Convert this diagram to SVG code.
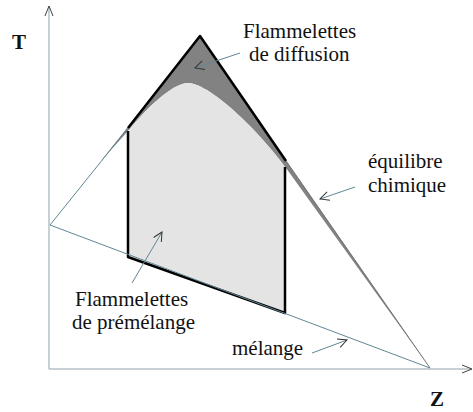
<svg xmlns="http://www.w3.org/2000/svg" width="473" height="412" viewBox="0 0 473 412">
<style>
.lbl{font-size:21px;fill:#111}
.ax{fill:none;stroke:#b4c0c6;stroke-width:1.5}
.axh{fill:none;stroke:#444;stroke-width:1}
.thin{fill:none;stroke:#5f8794;stroke-width:1}
.ptr{fill:none;stroke:#5f8794;stroke-width:1}
.bold{fill:none;stroke:#000;stroke-width:2.5;stroke-linejoin:round}
</style>
<defs>
<marker id="ah" markerWidth="12" markerHeight="12" refX="10" refY="5" orient="auto" markerUnits="userSpaceOnUse">
<path d="M1,0.5 L10,5 L1,9.5" fill="none" stroke="#333" stroke-width="1"/>
</marker>
</defs>
<g id="axes" font-family="Liberation Serif, Times New Roman, serif">
<line class="ax" x1="49" y1="369" x2="49" y2="6"/>
<line class="ax" x1="49" y1="369" x2="471" y2="369"/>
<path class="axh" d="M45,16 L49,6 L53,16"/>
<path class="axh" d="M462,365 L472,369 L462,373"/>
<text class="lbl" x="12" y="49" font-weight="bold">T</text>
<text class="lbl" x="430" y="406" font-weight="bold">Z</text>
</g>
<g id="diffusion-region">
<path d="M50,225 L200,36 L430,368 L286,168 C262,135 212,84 188,83 C172,83 145,110 128,131 L100,162 Z" fill="#828282"/>
</g>
<g id="premixed-region">
<path d="M128,131 C145,110 172,83 188,83 C212,84 262,135 285,167 L285,313 L128,257 Z" fill="#e4e4e4"/>
<path class="bold" d="M128,131 L128,257 L285,313 L285,167"/>
</g>
<g id="equilibrium">
<line class="thin" x1="50" y1="225" x2="128" y2="128"/>
<path class="bold" d="M128,128 L200,36 L286,161" stroke-width="2"/>
<line x1="286" y1="161" x2="430" y2="368" stroke="#777" stroke-width="1"/>
</g>
<g id="mixing">
<line class="thin" x1="50" y1="225" x2="430" y2="368"/>
</g>
<g id="connectors">
<line class="ptr" x1="240" y1="53" x2="195" y2="68" marker-end="url(#ah)"/>
<line class="ptr" x1="355" y1="187" x2="320" y2="199" marker-end="url(#ah)"/>
<line class="ptr" x1="132" y1="283" x2="162" y2="232" marker-end="url(#ah)"/>
<line class="ptr" x1="312" y1="353" x2="347" y2="340" marker-end="url(#ah)"/>
</g>
<g id="label-diffusion" font-family="Liberation Serif, Times New Roman, serif">
<text class="lbl" x="243" y="38">Flammelettes</text>
<text class="lbl" x="249" y="61">de diffusion</text>
</g>
<g id="label-equilibre" font-family="Liberation Serif, Times New Roman, serif">
<text class="lbl" x="368" y="168">équilibre</text>
<text class="lbl" x="368" y="192">chimique</text>
</g>
<g id="label-premelange" font-family="Liberation Serif, Times New Roman, serif">
<text class="lbl" x="75" y="306">Flammelettes</text>
<text class="lbl" x="72" y="329">de prémélange</text>
</g>
<g id="label-melange" font-family="Liberation Serif, Times New Roman, serif">
<text class="lbl" x="232" y="355">mélange</text>
</g>
</svg>
